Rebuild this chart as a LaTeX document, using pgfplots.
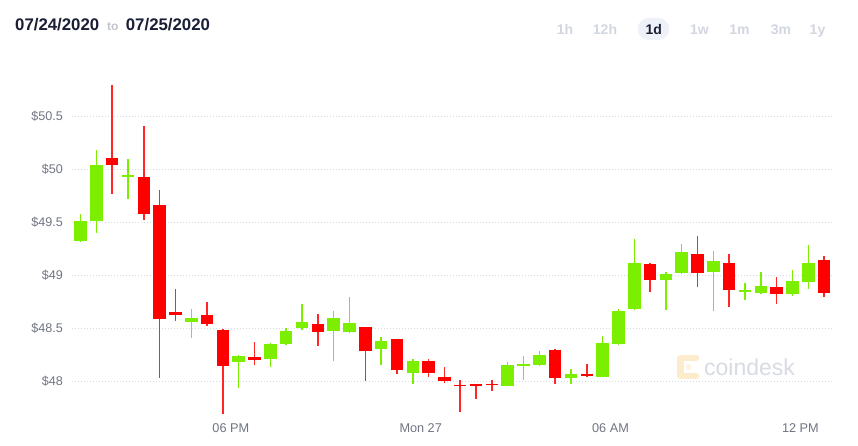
\documentclass[border=0pt]{standalone}
\usepackage{fontspec}
\setmainfont{Liberation Sans}
\usepackage{pgfplots}
\pgfplotsset{compat=1.18}
\usepackage{pgfplotstable}

\definecolor{up}{RGB}{124,238,0}
\definecolor{dn}{RGB}{255,0,0}
\definecolor{gridc}{RGB}{214,218,230}
\definecolor{tickc}{RGB}{112,117,130}
\definecolor{navy}{RGB}{26,31,54}
\definecolor{btn}{RGB}{210,214,224}
\definecolor{pill}{RGB}{238,241,248}
\definecolor{logoc}{RGB}{253,236,204}
\definecolor{wmark}{RGB}{216,219,227}

% up candles: x open close high low
\pgfplotstableread{
x o c h l
0 49.32 49.51 49.58 49.31
1 49.51 50.04 50.18 49.40
3 49.930 49.945 50.10 49.72
7 48.56 48.60 48.68 48.41
10 48.18 48.24 48.25 47.93
12 48.21 48.35 48.36 48.135
13 48.35 48.47 48.50 48.34
14 48.50 48.56 48.73 48.48
16 48.475 48.595 48.66 48.19
17 48.46 48.55 48.79 48.45
19 48.30 48.375 48.42 48.15
21 48.08 48.19 48.21 47.97
27 47.955 48.155 48.18 47.95
28 48.145 48.16 48.24 48.01
29 48.15 48.245 48.28 48.14
31 48.03 48.07 48.11 47.97
33 48.04 48.36 48.425 48.035
34 48.345 48.66 48.68 48.34
35 48.68 49.12 49.34 48.67
37 48.95 49.01 49.03 48.67
38 49.02 49.22 49.295 49.01
40 49.03 49.135 49.23 48.66
42 48.842 48.857 48.93 48.765
43 48.83 48.90 49.03 48.82
45 48.825 48.945 49.05 48.80
46 48.935 49.115 49.285 48.87
}\uptable

% down candles: x open close high low
\pgfplotstableread{
x o c h l
2 50.11 50.04 50.80 49.77
4 49.93 49.58 50.41 49.52
5 49.66 48.59 49.81 48.03
6 48.655 48.62 48.87 48.57
8 48.62 48.54 48.75 48.52
9 48.48 48.14 48.49 47.685
11 48.23 48.20 48.37 48.15
15 48.535 48.46 48.63 48.33
18 48.51 48.28 48.51 48.00
20 48.40 48.10 48.40 48.07
22 48.185 48.08 48.21 48.04
23 48.04 48.00 48.135 47.98
24 47.965 47.950 48.01 47.71
25 47.972 47.957 47.975 47.83
26 47.975 47.960 48.01 47.905
30 48.29 48.025 48.30 47.97
32 48.07 48.045 48.16 48.04
36 49.11 48.955 49.12 48.84
39 49.205 49.02 49.37 48.885
41 49.12 48.86 49.20 48.70
44 48.885 48.825 48.98 48.73
47 49.14 48.835 49.18 48.79
}\dntable

\begin{document}
\begin{tikzpicture}[x=1pt,y=1pt]
\useasboundingbox (-72,-28) rectangle (786,418);
\begin{scope}[shift={(-72pt,-28pt)}]
\fill[white] (0,0) rectangle (858,446);

% header
\node[anchor=base west, inner sep=0pt, text=navy, font=\fontsize{16.8}{18}\selectfont\bfseries] at (15,415) {07/24/2020};
\node[anchor=base west, inner sep=0pt, text=btn!80!gray, font=\fontsize{12}{14}\selectfont\bfseries] at (107,415) {to};
\node[anchor=base west, inner sep=0pt, text=navy, font=\fontsize{16.8}{18}\selectfont\bfseries] at (125.7,415) {07/25/2020};

% range buttons
\fill[pill, rounded corners=11pt] (637.7,406) rectangle (669.3,428);
\begin{scope}[every node/.style={anchor=base, inner sep=0pt, font=\fontsize{14}{16}\selectfont\bfseries, text=btn}]
\node at (565,411.7) {1h};
\node at (605,411.7) {12h};
\node[text=navy] at (653.8,411.7) {1d};
\node at (699.5,411.7) {1w};
\node at (739.5,411.7) {1m};
\node at (781,411.7) {3m};
\node at (817.5,411.7) {1y};
\end{scope}

% watermark
\draw[logoc, line width=6.5pt, line cap=round, line join=round] (696,88) -- (680.5,88) -- (680.5,70) -- (696,70);
\fill[logoc!60!white] (688.5,79) circle (3pt);
\node[anchor=base west, inner sep=0pt, text=wmark, font=\fontsize{23}{25}\selectfont] at (704,70.5) {coindesk};
\end{scope}

\begin{axis}[
  anchor=south west,
  scale only axis, width=760pt, height=348pt,
  xmin=-0.54, xmax=47.5, ymin=47.65, ymax=50.94,
  axis line style={draw=none}, tick style={draw=none},
  major tick length=0pt,
  ymajorgrids=true, xmajorgrids=false,
  major grid style={gridc, line width=0.9pt, dash pattern=on 1pt off 2pt},
  ytick={48,48.5,49,49.5,50,50.5},
  yticklabels={\$48,\$48.5,\$49,\$49.5,\$50,\$50.5},
  xtick={9.5,21.5,33.5,45.5},
  xticklabels={06 PM,Mon 27,06 AM,12 PM},
  yticklabel style={anchor=east, inner sep=0pt, xshift=-9pt, text=tickc, font=\fontsize{12.6}{14}\selectfont},
  xticklabel style={anchor=north, inner sep=0pt, yshift=-5.5pt, text=tickc, font=\fontsize{12.7}{14}\selectfont},
  /pgf/number format/assume math mode=true,
  clip=false,
]
% wicks
\addplot[draw=none, mark=none, forget plot, error bars/.cd, y dir=plus, y explicit, error mark=none,
  error bar style={draw=up, line width=1.5pt}]
  table[x=x, y=l, y error expr=\thisrow{h}-\thisrow{l}] {\uptable};
\addplot[draw=none, mark=none, forget plot, error bars/.cd, y dir=plus, y explicit, error mark=none,
  error bar style={draw=dn!85!white, line width=1.5pt}]
  table[x=x, y=l, y error expr=\thisrow{h}-\thisrow{l}] {\dntable};
% bodies
\addplot[draw=none, mark=none, forget plot, error bars/.cd, y dir=plus, y explicit, error mark=none,
  error bar style={draw=up, line width=12.5pt}]
  table[x=x, y=o, y error expr=\thisrow{c}-\thisrow{o}] {\uptable};
\addplot[draw=none, mark=none, forget plot, error bars/.cd, y dir=plus, y explicit, error mark=none,
  error bar style={draw=dn, line width=12.5pt}]
  table[x=x, y=c, y error expr=\thisrow{o}-\thisrow{c}] {\dntable};
\end{axis}
\end{tikzpicture}
\end{document}
